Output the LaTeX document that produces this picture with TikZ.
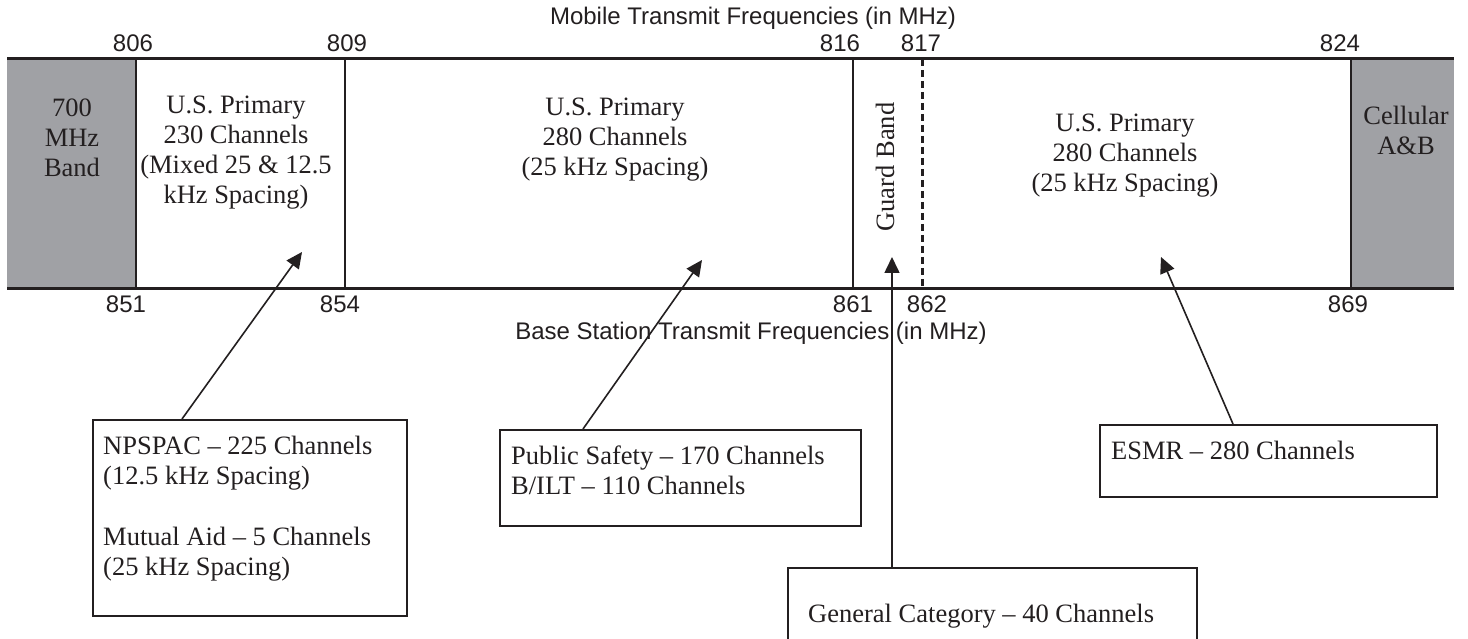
\documentclass[tikz,border=0pt]{standalone}
\usepackage{fontspec}
\setmainfont{Liberation Serif}
\newfontfamily\labelfont{Liberation Sans}
\usetikzlibrary{arrows.meta}
\definecolor{ink}{RGB}{35,31,32}
\definecolor{bandgray}{RGB}{160,161,165}

\begin{document}
\begin{tikzpicture}[x=1pt,y=-1pt,
  bandtext/.style={font=\fontsize{26.5}{30}\selectfont, text=ink, inner sep=0pt, align=center, anchor=north},
  freq/.style={font=\labelfont\fontsize{24}{28}\selectfont, text=ink, inner sep=0pt, anchor=base},
  callout/.style={draw=ink, line width=2pt, inner sep=0pt, anchor=north west},
  calltext/.style={font=\fontsize{26.5}{30}\selectfont, text=ink, inner sep=0pt, align=left, anchor=north west},
  pointer/.style={draw=ink, line width=1.6pt, -{Triangle[length=16pt,width=15pt]}},
  divider/.style={draw=ink, line width=2.2pt},
  edge/.style={draw=ink, line width=3pt},
]
\useasboundingbox (0,0) rectangle (1468,639);
\fill[white] (0,0) rectangle (1468,639);

% ---- frequency band strip ----
\fill[bandgray] (7,59) rectangle (136,289);
\fill[bandgray] (1351,59) rectangle (1454,289);
\draw[edge] (7,59) -- (1454,59);
\draw[edge] (7,289) -- (1454,289);
\draw[divider] (136,59) -- (136,289);
\draw[divider] (345,59) -- (345,289);
\draw[divider] (853,59) -- (853,289);
\draw[divider] (1351,59) -- (1351,289);
\draw[draw=ink, line width=3pt, dash pattern=on 7pt off 4pt] (922,59) -- (922,289);

% ---- band contents ----
\node[bandtext] (b700) at (72,98.5) {700\\MHz\\Band};
\node[bandtext] (usa) at (236,95.5) {U.S. Primary\\230 Channels\\(Mixed 25 \& 12.5\\kHz Spacing)};
\node[bandtext] (usb) at (615,97.5) {U.S. Primary\\280 Channels\\(25 kHz Spacing)};
\node[font=\fontsize{26.5}{30}\selectfont, text=ink, inner sep=0pt, rotate=90] (guard) at (885,167) {Guard Band};
\node[bandtext] (usc) at (1125,113.5) {U.S. Primary\\280 Channels\\(25 kHz Spacing)};
\node[bandtext] (cell) at (1406,105.5) {Cellular\\A\&B};

% ---- frequency scales ----
\node[freq] (mtitle) at (753,25) {Mobile Transmit Frequencies (in MHz)};
\node[freq] (m806) at (133,52) {806};
\node[freq] (m809) at (347,52) {809};
\node[freq] (m816) at (840,52) {816};
\node[freq] (m817) at (921,52) {817};
\node[freq] (m824) at (1340,52) {824};

\node[freq] (b851) at (126,312.5) {851};
\node[freq] (b854) at (340,312.5) {854};
\node[freq] (b861) at (853,312.5) {861};
\node[freq] (b862) at (927,312.5) {862};
\node[freq] (b869) at (1348,312.5) {869};
\node[freq] (btitle) at (751,339.5) {Base Station Transmit Frequencies (in MHz)};

% ---- callout boxes ----
\node[callout, minimum width=314pt, minimum height=196pt] (npbox) at (92,419) {};
\node[calltext] (nptext) at (103,436) {NPSPAC -- 225 Channels\\(12.5 kHz Spacing)\\[31pt]Mutual Aid -- 5 Channels\\(25 kHz Spacing)};

\node[callout, minimum width=361pt, minimum height=96pt] (psbox) at (499,429) {};
\node[calltext] (pstext) at (511,445.5) {Public Safety -- 170 Channels\\B/ILT -- 110 Channels};

\node[callout, minimum width=409pt, minimum height=80pt] (gcbox) at (787,567) {};
\node[calltext] (gctext) at (808,603.5) {General Category -- 40 Channels};

\node[callout, minimum width=337pt, minimum height=72pt] (esbox) at (1099,424) {};
\node[calltext] (estext) at (1111,440.5) {ESMR -- 280 Channels};

% ---- pointers into the band strip ----
\coordinate (tipA) at (302,252);
\coordinate (tipB) at (702,260);
\coordinate (tipC) at (892,257);
\coordinate (tipD) at (1161,257);

\draw[pointer] ([xshift=90pt]npbox.north west) -- (tipA);
\draw[pointer] ([xshift=84pt]psbox.north west) -- (tipB);
\draw[pointer] ([xshift=105pt]gcbox.north west) -- (tipC);
\draw[pointer] ([xshift=134pt]esbox.north west) -- (tipD);
\end{tikzpicture}
\end{document}
